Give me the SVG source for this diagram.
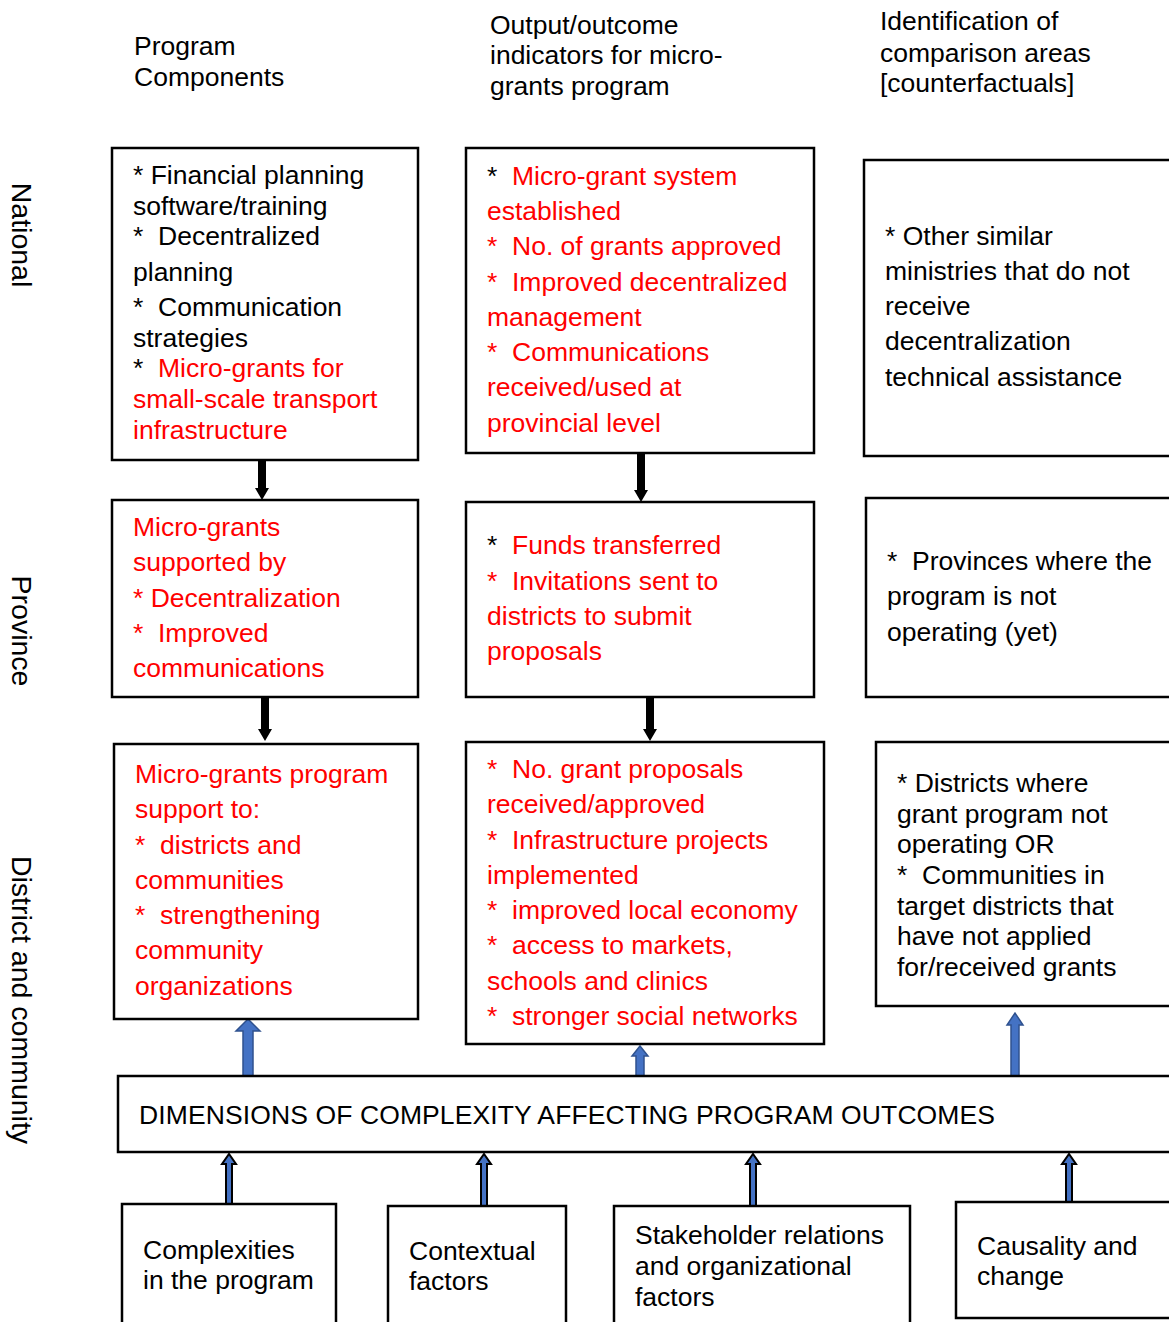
<svg xmlns="http://www.w3.org/2000/svg" width="1169" height="1322" viewBox="0 0 1169 1322">
<style>
text{font-family:"Liberation Sans",Arial,sans-serif;font-size:26.5px;fill:#000;}
.r{fill:#FF0000;}
.side{font-size:28.5px;text-anchor:middle;}
.box{fill:#fff;stroke:#000;stroke-width:2.5;}
.down{fill:#000;}
.blue{fill:#4472C4;stroke:#2F528F;stroke-width:1.5;}
.thin{fill:#4472C4;stroke:#000;stroke-width:2;}
</style>
<rect width="1169" height="1322" fill="#fff"/>

<g id="headers">
<text x="134" y="55">Program</text>
<text x="134" y="86">Components</text>
<text x="490" y="34">Output/outcome</text>
<text x="490" y="64">indicators for micro-</text>
<text x="490" y="95">grants program</text>
<text x="880" y="30">Identification of</text>
<text x="880" y="62">comparison areas</text>
<text x="880" y="92">[counterfactuals]</text>
</g>

<g id="side-labels">
<text class="side" transform="translate(12,235) rotate(90)">National</text>
<text class="side" transform="translate(12,631) rotate(90)">Province</text>
<text class="side" transform="translate(12,1000) rotate(90)">District and community</text>
</g>

<g id="connectors">
<path class="down" d="M258,458 H266 V488 H269 L262,500 L255,488 H258 Z"/>
<path class="down" d="M261,697 H269 V729 H272 L265,741 L258,729 H261 Z"/>
<path class="down" d="M637,453 H645 V490 H648 L641,502 L634,490 H637 Z"/>
<path class="down" d="M646,697 H654 V729 H657 L650,741 L643,729 H646 Z"/>
<path class="blue" d="M243,1076 V1031 H236 L248,1019 L260,1031 H253 V1076 Z"/>
<path class="blue" d="M636,1076 V1056 H632 L640,1046 L648,1056 H644 V1076 Z"/>
<path class="blue" d="M1011,1076 V1025 H1007 L1015,1013 L1023,1025 H1019 V1076 Z"/>
<path class="thin" d="M226,1204 V1164 H222 L229,1154 L236,1164 H232 V1204 Z"/>
<path class="thin" d="M481,1206 V1164 H477 L484,1154 L491,1164 H487 V1206 Z"/>
<path class="thin" d="M750,1206 V1164 H746 L753,1154 L760,1164 H756 V1206 Z"/>
<path class="thin" d="M1066,1202 V1164 H1062 L1069,1154 L1076,1164 H1072 V1202 Z"/>
</g>

<g id="national-components">
<rect class="box" x="112" y="148" width="306" height="312"/>
<text x="133" y="184">* Financial planning</text>
<text x="133" y="215">software/training</text>
<text x="133" y="245">*<tspan x="158">Decentralized</tspan></text>
<text x="133" y="281">planning</text>
<text x="133" y="316">*<tspan x="158">Communication</tspan></text>
<text x="133" y="347">strategies</text>
<text x="133" y="377">*<tspan class="r" x="158">Micro-grants for</tspan></text>
<text class="r" x="133" y="408">small-scale transport</text>
<text class="r" x="133" y="439">infrastructure</text>
</g>

<g id="national-outputs">
<rect class="box" x="466" y="148" width="348" height="305"/>
<text x="487" y="185">*<tspan class="r" x="512">Micro-grant system</tspan></text>
<text class="r" x="487" y="220">established</text>
<text class="r" x="487" y="255">*<tspan x="512">No. of grants approved</tspan></text>
<text class="r" x="487" y="291">*<tspan x="512">Improved decentralized</tspan></text>
<text class="r" x="487" y="326">management</text>
<text class="r" x="487" y="361">*<tspan x="512">Communications</tspan></text>
<text class="r" x="487" y="396">received/used at</text>
<text class="r" x="487" y="432">provincial level</text>
</g>

<g id="national-comparison">
<rect class="box" x="864" y="160" width="310" height="296"/>
<text x="885" y="245">* Other similar</text>
<text x="885" y="280">ministries that do not</text>
<text x="885" y="315">receive</text>
<text x="885" y="350">decentralization</text>
<text x="885" y="386">technical assistance</text>
</g>

<g id="province-components">
<rect class="box" x="112" y="500" width="306" height="197"/>
<text class="r" x="133" y="536">Micro-grants</text>
<text class="r" x="133" y="571">supported by</text>
<text class="r" x="133" y="607">* Decentralization</text>
<text class="r" x="133" y="642">*<tspan x="158">Improved</tspan></text>
<text class="r" x="133" y="677">communications</text>
</g>

<g id="province-outputs">
<rect class="box" x="466" y="502" width="348" height="195"/>
<text x="487" y="554">*<tspan class="r" x="512">Funds transferred</tspan></text>
<text class="r" x="487" y="590">*<tspan x="512">Invitations sent to</tspan></text>
<text class="r" x="487" y="625">districts to submit</text>
<text class="r" x="487" y="660">proposals</text>
</g>

<g id="province-comparison">
<rect class="box" x="866" y="498" width="308" height="199"/>
<text x="887" y="570">*<tspan x="912">Provinces where the</tspan></text>
<text x="887" y="605">program is not</text>
<text x="887" y="641">operating (yet)</text>
</g>

<g id="district-components">
<rect class="box" x="114" y="744" width="304" height="275"/>
<text class="r" x="135" y="783">Micro-grants program</text>
<text class="r" x="135" y="818">support to:</text>
<text class="r" x="135" y="854">*<tspan x="160">districts and</tspan></text>
<text class="r" x="135" y="889">communities</text>
<text class="r" x="135" y="924">*<tspan x="160">strengthening</tspan></text>
<text class="r" x="135" y="959">community</text>
<text class="r" x="135" y="995">organizations</text>
</g>

<g id="district-outputs">
<rect class="box" x="466" y="742" width="358" height="302"/>
<text class="r" x="487" y="778">*<tspan x="512">No. grant proposals</tspan></text>
<text class="r" x="487" y="813">received/approved</text>
<text class="r" x="487" y="849">*<tspan x="512">Infrastructure projects</tspan></text>
<text class="r" x="487" y="884">implemented</text>
<text class="r" x="487" y="919">*<tspan x="512">improved local economy</tspan></text>
<text class="r" x="487" y="954">*<tspan x="512">access to markets,</tspan></text>
<text class="r" x="487" y="990">schools and clinics</text>
<text class="r" x="487" y="1025">*<tspan x="512">stronger social networks</tspan></text>
</g>

<g id="district-comparison">
<rect class="box" x="876" y="742" width="298" height="264"/>
<text x="897" y="792">* Districts where</text>
<text x="897" y="823">grant program not</text>
<text x="897" y="853">operating OR</text>
<text x="897" y="884">*<tspan x="922">Communities in</tspan></text>
<text x="897" y="915">target districts that</text>
<text x="897" y="945">have not applied</text>
<text x="897" y="976">for/received grants</text>
</g>

<g id="dimensions">
<rect class="box" x="118" y="1076" width="1056" height="76"/>
<text x="139" y="1124" textLength="856">DIMENSIONS OF COMPLEXITY AFFECTING PROGRAM OUTCOMES</text>
</g>

<g id="complexities-program">
<rect class="box" x="122" y="1204" width="214" height="124"/>
<text x="143" y="1259">Complexities</text>
<text x="143" y="1289">in the program</text>
</g>

<g id="contextual-factors">
<rect class="box" x="388" y="1206" width="178" height="122"/>
<text x="409" y="1260">Contextual</text>
<text x="409" y="1290">factors</text>
</g>

<g id="stakeholder-relations">
<rect class="box" x="614" y="1206" width="296" height="122"/>
<text x="635" y="1244">Stakeholder relations</text>
<text x="635" y="1275">and organizational</text>
<text x="635" y="1306">factors</text>
</g>

<g id="causality-change">
<rect class="box" x="956" y="1202" width="218" height="116"/>
<text x="977" y="1255">Causality and</text>
<text x="977" y="1285">change</text>
</g>
</svg>
